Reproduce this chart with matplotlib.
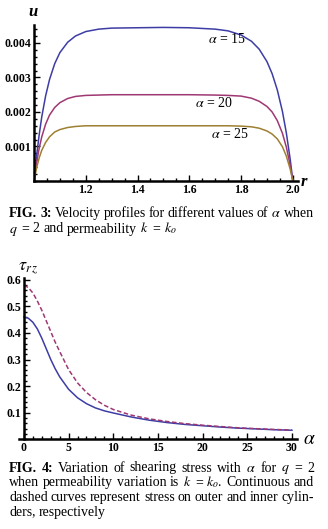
import numpy as np
import matplotlib
matplotlib.use('Agg')
import matplotlib.pyplot as plt
from matplotlib.ticker import FixedLocator, MultipleLocator

plt.rcParams['font.family'] = ['Liberation Serif', 'DejaVu Serif']
plt.rcParams['mathtext.fontset'] = 'stix'

# --- FIG. 3 data: velocity profiles u(r) ---
r_pts = [1.0, 1.01, 1.02, 1.03, 1.045, 1.06, 1.08, 1.1, 1.13, 1.16, 1.2, 1.25, 1.3,
         1.4, 1.5, 1.6, 1.7, 1.75, 1.8, 1.84, 1.87, 1.9, 1.92, 1.94, 1.96, 1.975, 1.99, 2.0]
u_a15 = [0.0, 0.00073, 0.00134, 0.00186, 0.00247, 0.00294, 0.0034, 0.00372, 0.00402, 0.0042,
         0.00433, 0.0044, 0.00443, 0.00444, 0.00445, 0.00444, 0.0044, 0.00435, 0.00423, 0.00405,
         0.00382, 0.00346, 0.00311, 0.00264, 0.00201, 0.00139, 0.00062, 0.0]
u_a20 = [0.0, 0.00053, 0.00095, 0.00128, 0.00165, 0.00191, 0.00213, 0.00227, 0.00239, 0.00245,
         0.00248, 0.00249, 0.0025, 0.0025, 0.0025, 0.0025, 0.00249, 0.00248, 0.00246, 0.0024,
         0.00231, 0.00216, 0.002, 0.00175, 0.00138, 0.00098, 0.00045, 0.0]
u_a25 = [0.0, 0.00038, 0.00067, 0.00089, 0.00112, 0.00128, 0.00142, 0.00149, 0.00155, 0.00158,
         0.0016, 0.0016, 0.0016, 0.0016, 0.0016, 0.0016, 0.0016, 0.0016, 0.00159, 0.00157,
         0.00153, 0.00145, 0.00136, 0.00122, 0.00099, 0.00072, 0.00034, 0.0]
alpha_labels = [r'$\alpha$ = 15', r'$\alpha$ = 20', r'$\alpha$ = 25']

# --- FIG. 4 data: shearing stress vs alpha ---
alpha_pts = [0, 0.5, 1, 1.5, 2, 2.5, 3, 3.5, 4, 5, 6, 7, 8, 9, 10, 12, 14, 16, 18, 20,
             22, 24, 26, 28, 30]
tau_outer = [0.46, 0.455, 0.44, 0.415, 0.38, 0.34, 0.30, 0.265, 0.235, 0.188, 0.156, 0.134,
             0.118, 0.107, 0.099, 0.084, 0.072, 0.063, 0.056, 0.051, 0.046, 0.042, 0.039,
             0.036, 0.034]
tau_inner = [0.58, 0.57, 0.55, 0.52, 0.485, 0.445, 0.405, 0.365, 0.33, 0.262, 0.212, 0.176,
             0.149, 0.128, 0.112, 0.091, 0.077, 0.067, 0.059, 0.053, 0.048, 0.043, 0.040,
             0.037, 0.035]

cap3 = [['FIG.', '3:', 'Velocity', 'profiles', 'for', 'different', 'values', 'of', r'$\alpha$', 'when'],
        [r'$q$', '=', '2', 'and', 'permeability', r'$k$', '=', r'$k_o$']]
cap4 = [['FIG.', '4:', 'Variation', 'of', 'shearing', 'stress', 'with', r'$\alpha$', 'for', r'$q$', '=', '2'],
        ['when', 'permeability', 'variation', 'is', r'$k$', '=', r'$k_o$.', 'Continuous', 'and'],
        ['dashed', 'curves', 'represent', 'stress', 'on', 'outer', 'and', 'inner', 'cylin-'],
        ['ders,', 'respectively']]

W, H = 328, 529
blue = (0.24, 0.24, 0.65)
red = (0.62, 0.22, 0.45)
olive = (0.62, 0.5, 0.2)

fig = plt.figure(figsize=(W / 100, H / 100), dpi=100)


def style_axes(ax):
    for s in ['top', 'right']:
        ax.spines[s].set_visible(False)
    for s in ['left', 'bottom']:
        ax.spines[s].set_linewidth(1.8)
    ax.tick_params(which='both', direction='in', width=1.0, pad=2, labelsize=8.5)
    ax.tick_params(which='major', length=4)
    ax.tick_params(which='minor', length=2)
    for lab in ax.get_xticklabels() + ax.get_yticklabels():
        lab.set_fontweight('bold')


# top panel
ax1 = fig.add_axes([34 / W, 1 - 181 / H, (298 - 34) / W, (181 - 25) / H])
ax1.plot(r_pts, u_a15, color=blue, lw=1.1)
ax1.plot(r_pts, u_a20, color=red, lw=1.1)
ax1.plot(r_pts, u_a25, color=olive, lw=1.1)
ax1.set_xlim(1.0, 2.02)
ax1.set_ylim(0, 0.00452)
ax1.xaxis.set_major_locator(FixedLocator([1.2, 1.4, 1.6, 1.8, 2.0]))
ax1.xaxis.set_minor_locator(MultipleLocator(0.05))
ax1.yaxis.set_major_locator(FixedLocator([0.001, 0.002, 0.003, 0.004]))
ax1.yaxis.set_minor_locator(MultipleLocator(0.0002))
ax1.set_xticklabels(['1.2', '1.4', '1.6', '1.8', '2.0'])
ax1.set_yticklabels(['0.001', '0.002', '0.003', '0.004'])
style_axes(ax1)
for lab, (x, y) in zip(alpha_labels, [(1.745, 0.0041), (1.695, 0.00227), (1.755, 0.00136)]):
    ax1.text(x, y, lab, fontsize=10, ha='center', va='center')
fig.text(33 / W, 1 - 16 / H, 'u', fontsize=12, style='italic', fontweight='bold', ha='center')
fig.text(304 / W, 1 - 186 / H, 'r', fontsize=12, style='italic', fontweight='bold', ha='center')

# bottom panel
ax2 = fig.add_axes([18.6 / W, 1 - 439.3 / H, (297.3 - 18.6) / W, (439.3 - 278.4) / H])
ax2.plot(alpha_pts, tau_outer, color=blue, lw=1.1)
ax2.plot(alpha_pts, tau_inner, color=red, lw=1.1, dashes=(3, 1.6))
ax2.set_xlim(-0.6, 30.6)
ax2.set_ylim(0, 0.605)
ax2.spines['left'].set_position(('data', 0))
ax2.xaxis.set_major_locator(FixedLocator([0, 5, 10, 15, 20, 25, 30]))
ax2.xaxis.set_minor_locator(MultipleLocator(1))
ax2.yaxis.set_major_locator(FixedLocator([0.1, 0.2, 0.3, 0.4, 0.5, 0.6]))
ax2.yaxis.set_minor_locator(MultipleLocator(0.02))
ax2.set_xticklabels(['0', '5', '10', '15', '20', '25', '30'])
ax2.set_yticklabels(['0.1', '0.2', '0.3', '0.4', '0.5', '0.6'])
style_axes(ax2)
fig.text(28 / W, 1 - 271 / H, r'$\tau_{r\,z}$', fontsize=13, ha='center')
fig.text(309 / W, 1 - 444 / H, r'$\alpha$', fontsize=14, ha='center')


def caption_line(y, words, justify=True, size=10):
    x0, x1 = 9, 314
    texts = []
    for w in words:
        bold = w in ('FIG.', '3:', '4:')
        texts.append(fig.text(0, 1 - y / H, w, fontsize=size, va='baseline',
                              fontweight='bold' if bold else 'normal'))
    renderer = fig.canvas.get_renderer()
    widths = [t.get_window_extent(renderer).width for t in texts]
    space = size * 100 / 72 * 0.25
    gap = space
    if justify:
        gap = max((x1 - x0 - sum(widths)) / (len(texts) - 1), space * 0.5)
    x = x0
    for t, w in zip(texts, widths):
        t.set_x(x / W)
        x += w + gap


caption_line(217, cap3[0])
caption_line(232.5, cap3[1], justify=False)
for i, line in enumerate(cap4):
    caption_line(471.5 + i * 14.7, line, justify=(i < len(cap4) - 1))

fig.savefig('out.png', dpi=100)
